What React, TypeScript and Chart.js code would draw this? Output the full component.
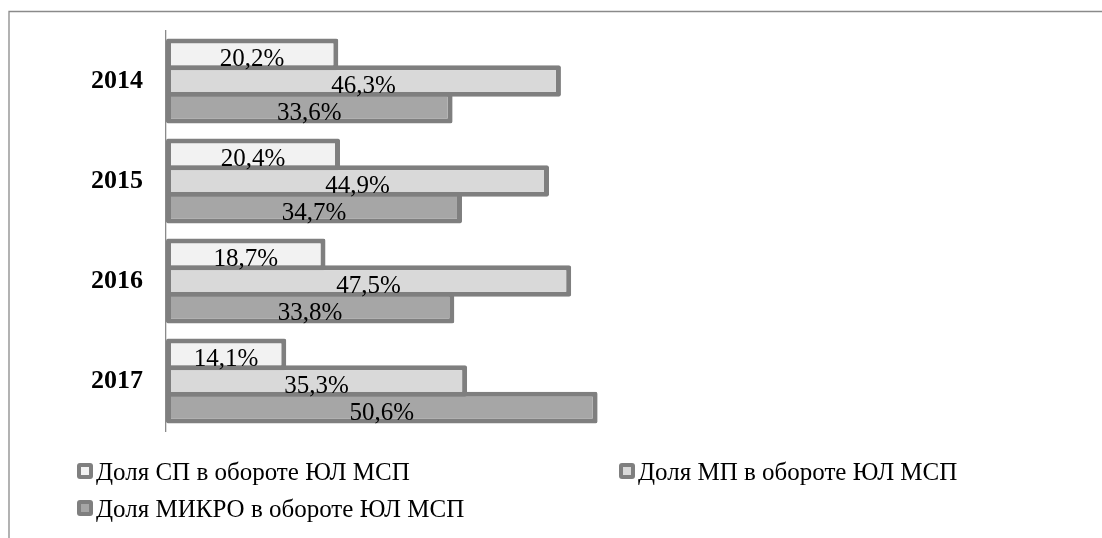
import React, { useEffect, useRef } from "react";
import { Chart, registerables } from "chart.js";

Chart.register(...registerables);

const categories = ["2014", "2015", "2016", "2017"];
const seriesNames = [
  "Доля СП в обороте ЮЛ МСП",
  "Доля МП в обороте ЮЛ МСП",
  "Доля МИКРО в обороте ЮЛ МСП",
];
const spValues = [20.2, 20.4, 18.7, 14.1];
const mpValues = [46.3, 44.9, 47.5, 35.3];
const microValues = [33.6, 34.7, 33.8, 50.6];
const axisMin = 0;
const axisMax = 100;

const fills = ["#f2f2f2", "#d9d9d9", "#a6a6a6"];
const edge = "#7f7f7f";
const FONT = "'Liberation Serif', 'Times New Roman', serif";

const fmt = (v: number) => v.toFixed(1).replace(".", ",") + "%";

const labelsPlugin = {
  id: "barLabels",
  afterDatasetsDraw(chart: any) {
    const ctx = chart.ctx;
    ctx.save();
    ctx.font = `25px ${FONT}`;
    ctx.fillStyle = "#000";
    ctx.textAlign = "center";
    ctx.textBaseline = "alphabetic";
    chart.data.datasets.forEach((ds: any, di: number) => {
      const meta = chart.getDatasetMeta(di);
      meta.data.forEach((el: any, i: number) => {
        const cx = (el.x + el.base) / 2;
        ctx.fillText(fmt(ds.data[i]), cx, el.y + 12);
      });
    });
    ctx.restore();
  },
};

const framePlugin = {
  id: "frameAndLegend",
  afterDraw(chart: any) {
    const ctx = chart.ctx;
    ctx.save();
    ctx.strokeStyle = "#8a8a8a";
    ctx.lineWidth = 1.3;
    ctx.beginPath();
    ctx.moveTo(9, chart.height);
    ctx.lineTo(9, 11.5);
    ctx.lineTo(chart.width, 11.5);
    ctx.stroke();

    const items = [
      { x: 77, y: 463 },
      { x: 619, y: 463 },
      { x: 77, y: 500 },
    ];
    ctx.font = `25px ${FONT}`;
    ctx.textAlign = "left";
    ctx.textBaseline = "alphabetic";
    items.forEach((it, i) => {
      ctx.fillStyle = edge;
      ctx.beginPath();
      (ctx as any).roundRect(it.x, it.y, 16, 16, 3);
      ctx.fill();
      ctx.fillStyle = fills[i];
      ctx.fillRect(it.x + 4, it.y + 4, 8, 8);
      ctx.fillStyle = "#000";
      ctx.fillText(seriesNames[i], it.x + 19, it.y + 17);
    });
    ctx.restore();
  },
};

export default function App() {
  const ref = useRef<HTMLCanvasElement | null>(null);
  useEffect(() => {
    document.body.style.margin = "0";
    document.body.style.overflow = "hidden";
    const canvas = ref.current!;
    const values = [spValues, mpValues, microValues];
    const chart = new Chart(canvas, {
      type: "bar",
      data: {
        labels: categories,
        datasets: values.map((d, i) => ({
          label: seriesNames[i],
          data: d,
          backgroundColor: fills[i],
          borderColor: edge,
          borderWidth: 5,
          borderSkipped: false,
          borderRadius: 2,
          categoryPercentage: 0.8,
          barPercentage: 1.19,
        })),
      },
      options: {
        indexAxis: "y",
        animation: false,
        responsive: false,
        devicePixelRatio: 1,
        layout: { padding: { left: 0, top: 31, right: 83, bottom: 107 } },
        plugins: {
          legend: { display: false },
          tooltip: { enabled: false },
        },
        scales: {
          x: {
            display: false,
            min: axisMin,
            max: axisMax,
          },
          y: {
            afterFit: (s: any) => {
              s.width = 166;
              s.paddingTop = 0;
              s.paddingBottom = 0;
            },
            grid: { display: false },
            border: { display: true, color: "#8a8a8a", width: 1.3 },
            ticks: {
              padding: 15,
              color: "#000",
              font: { family: FONT, size: 26, weight: "bold" },
            },
          },
        },
      },
      plugins: [labelsPlugin, framePlugin],
    } as any);
    return () => chart.destroy();
  }, []);
  return (
    <canvas
      ref={ref}
      width={1102}
      height={538}
      style={{ display: "block", width: 1102, height: 538 }}
    />
  );
}
